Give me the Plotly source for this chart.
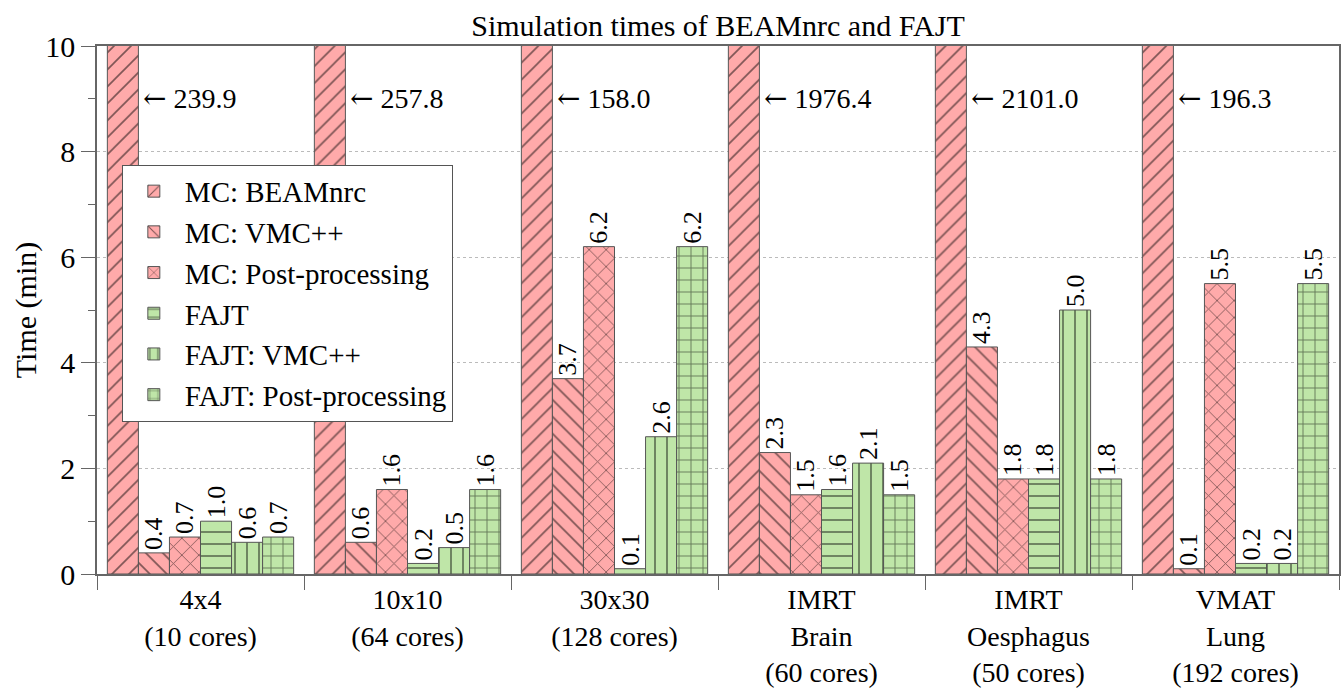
import plotly.graph_objects as go

categories = ["4x4<br>(10 cores)", "10x10<br>(64 cores)", "30x30<br>(128 cores)",
              "IMRT<br>Brain<br>(60 cores)", "IMRT<br>Oesphagus<br>(50 cores)",
              "VMAT<br>Lung<br>(192 cores)"]
series_names = ["MC: BEAMnrc", "MC: VMC++", "MC: Post-processing",
                "FAJT", "FAJT: VMC++", "FAJT: Post-processing"]
mc_beamnrc = [239.9, 257.8, 158.0, 1976.4, 2101.0, 196.3]
mc_vmc = [0.4, 0.6, 3.7, 2.3, 4.3, 0.1]
mc_post = [0.7, 1.6, 6.2, 1.5, 1.8, 5.5]
fajt = [1.0, 0.2, 0.1, 1.6, 1.8, 0.2]
fajt_vmc = [0.6, 0.5, 2.6, 2.1, 5.0, 0.2]
fajt_post = [0.7, 1.6, 6.2, 1.5, 1.8, 5.5]
y_ticks = [0, 2, 4, 6, 8, 10]

PINK = "#ffaaaa"
GREEN = "#bfe6a8"
FONT = "Times New Roman, Liberation Serif, Times, serif"

series = [mc_beamnrc, mc_vmc, mc_post, fajt, fajt_vmc, fajt_post]
colors = [PINK, PINK, PINK, GREEN, GREEN, GREEN]
shapes = ["/", "\\", "x", "-", "|", "+"]

fig = go.Figure()
for i, (name, vals, col, shp) in enumerate(zip(series_names, series, colors, shapes)):
    show_text = i != 0
    fig.add_trace(go.Bar(
        name=name,
        x=categories,
        y=vals,
        marker=dict(
            color=col,
            line=dict(color="#555555", width=1),
            pattern=dict(shape=shp, fgcolor="#000000", bgcolor=col,
                         size=12, solidity=0.14),
        ),
        texttemplate="%{y:.1f}" if show_text else None,
        textposition="outside" if show_text else "none",
        textangle=-90,
        constraintext="none",
        textfont=dict(family=FONT, size=26, color="black"),
        cliponaxis=True,
    ))

# annotations for clipped BEAMnrc bars
for idx, v in enumerate(mc_beamnrc):
    fig.add_annotation(
        x=idx - 0.3, y=9, xref="x", yref="y",
        text="<span style='font-family:DejaVu Serif'>\u2190</span> %.1f" % v,
        showarrow=False,
        xanchor="left", yanchor="middle", xshift=3,
        font=dict(family=FONT, size=28, color="black"),
    )

fig.update_layout(
    width=1342, height=695,
    margin=dict(l=97, r=1, t=46, b=121),
    paper_bgcolor="white", plot_bgcolor="white",
    barmode="group", bargap=0.1, bargroupgap=0,
    font=dict(family=FONT, size=29, color="black"),
    title=dict(text="Simulation times of BEAMnrc and FAJT", x=0.5, xref="paper",
               xanchor="center", y=1 - 25 / 695, yref="container", yanchor="middle",
               font=dict(family=FONT, size=30, color="black")),
    legend=dict(x=0.02, y=0.775, xanchor="left", yanchor="top",
                bgcolor="white", bordercolor="#555555", borderwidth=1,
                font=dict(family=FONT, size=29, color="black"),
                itemwidth=52, tracegroupgap=0),
    showlegend=True,
)
fig.update_xaxes(
    type="category", showline=True, linecolor="#666666", linewidth=1.5, mirror=True,
    ticks="outside", tickson="boundaries", ticklen=14, tickcolor="#666666",
    tickfont=dict(family=FONT, size=28, color="black"), showgrid=False,
)
fig.update_yaxes(
    range=[0, 10], tickvals=y_ticks, showline=True, linecolor="#666666", linewidth=1.5,
    mirror=True, ticks="outside", ticklen=14, tickcolor="#666666",
    tickfont=dict(family=FONT, size=30, color="black"),
    showgrid=True, gridcolor="#bbbbbb", griddash="dot", gridwidth=1, zeroline=False,
    minor=dict(dtick=1, ticks="outside", ticklen=7, tickcolor="#666666", showgrid=False),
    title=dict(text="Time (min)", standoff=0, font=dict(family=FONT, size=30, color="black")),
)

fig.write_html("out.html")
